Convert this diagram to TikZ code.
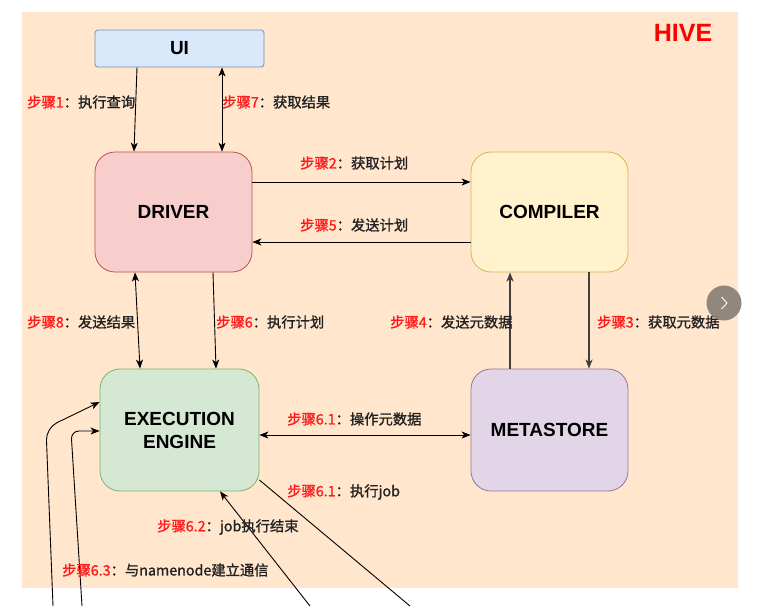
\documentclass[tikz,border=0pt]{standalone}
\usepackage{fontspec}
\setmainfont{Liberation Sans}
\newfontfamily\cjk[FakeBold=1.2]{Noto Sans CJK SC}
\usetikzlibrary{arrows.meta,calc}
\definecolor{peach}{HTML}{FFE6CC}
\definecolor{uifill}{HTML}{DAE8FC}\definecolor{uidraw}{HTML}{6C8EBF}
\definecolor{drfill}{HTML}{F8CECC}\definecolor{drdraw}{HTML}{B85450}
\definecolor{cofill}{HTML}{FFF2CC}\definecolor{codraw}{HTML}{D6B656}
\definecolor{eefill}{HTML}{D5E8D4}\definecolor{eedraw}{HTML}{82B366}
\definecolor{msfill}{HTML}{E1D5E7}\definecolor{msdraw}{HTML}{9673A6}
\definecolor{labtxt}{HTML}{222222}
\definecolor{stepred}{HTML}{FF1A1A}
\definecolor{btngray}{HTML}{8C8278}
\begin{document}
\begin{tikzpicture}[x=1pt,y=-1pt,
  box/.style={draw, line width=0.8pt, rounded corners=20pt, minimum width=157pt, minimum height=120pt,
    font=\fontsize{19}{23}\selectfont\bfseries, align=center, inner sep=0pt},
  conn/.style={draw=black, line width=0.9pt, -{Stealth[length=9pt,width=7pt,inset=2.5pt]}},
  biconn/.style={draw=black, line width=0.9pt, {Stealth[length=9pt,width=7pt,inset=2.5pt]}-{Stealth[length=9pt,width=7pt,inset=2.5pt]}},
  thickconn/.style={draw=black!75, line width=1.8pt, -{Stealth[length=9pt,width=7pt,inset=2.5pt]}},
  steplabel/.style={anchor=west, inner sep=0pt, text=labtxt, font=\cjk\fontsize{14.3}{16}\selectfont}
]
\useasboundingbox (0,0) rectangle (762,606);
\fill[white] (0,0) rectangle (762,606);
\fill[peach] (22,12) rectangle (738,588);

\node[text=red, font=\fontsize{25}{28}\selectfont\bfseries, inner sep=0pt] (hive) at (683,33) {HIVE};

\node[box, fill=uifill, draw=uidraw, rounded corners=3pt, minimum width=169pt, minimum height=37pt] (ui) at (179.5,48.5) {UI};
\node[box, fill=drfill, draw=drdraw] (driver) at (173.5,212) {DRIVER};
\node[box, fill=cofill, draw=codraw] (compiler) at (549.5,212) {COMPILER};
\node[box, fill=eefill, draw=eedraw, minimum width=159pt, minimum height=122pt] (ee) at (179.5,430) {EXECUTION\\ENGINE};
\node[box, fill=msfill, draw=msdraw, minimum height=122pt] (ms) at (549.5,430) {METASTORE};

% connectors
\draw[conn] ([xshift=-42.5pt]ui.south) -- ([xshift=-39.5pt]driver.north);
\draw[biconn] ([xshift=42.5pt]ui.south) -- ([xshift=48.5pt]driver.north);
\draw[conn] ([yshift=30pt]driver.east) -- ([yshift=30pt]compiler.west);
\draw[conn] ([yshift=-30pt]compiler.west) -- ([yshift=-30pt]driver.east);
\draw[biconn] ([xshift=-38.5pt]driver.south) -- ([xshift=-39.5pt]ee.north);
\draw[conn] ([xshift=39.5pt]driver.south) -- ([xshift=36.5pt]ee.north);
\draw[thickconn] ([xshift=-39.5pt]ms.north) -- ([xshift=-39.5pt]compiler.south);
\draw[thickconn] ([xshift=39.5pt]compiler.south) -- ([xshift=39.5pt]ms.north);
\draw[biconn] ([yshift=-5pt]ee.east) -- ([yshift=-5pt]ms.west);

\coordinate (jobend) at (410,606);
\coordinate (doneend) at (310,606);
\coordinate (nnA) at (53,606);
\coordinate (nnB) at (82,606);
\draw[draw=black, line width=0.9pt] ([yshift=-50pt]ee.east) -- (jobend);
\draw[conn] (doneend) -- ([xshift=40.5pt]ee.south);
\draw[conn, rounded corners=12pt] (nnA) -- (46,428) -- ([yshift=28pt]ee.west);
\draw[conn, rounded corners=8pt] (nnB) -- (71,431) -- ([yshift=-1pt]ee.west);

% labels
\node[steplabel] (l1) at (27,102) {\textcolor{stepred}{步骤1}：执行查询};
\node[steplabel] (l7) at (222,102) {\textcolor{stepred}{步骤7}：获取结果};
\node[steplabel] (l2) at (300,163) {\textcolor{stepred}{步骤2}：获取计划};
\node[steplabel] (l5) at (300,225) {\textcolor{stepred}{步骤5}：发送计划};
\node[steplabel] (l8) at (27,322) {\textcolor{stepred}{步骤8}：发送结果};
\node[steplabel] (l6) at (216,322) {\textcolor{stepred}{步骤6}：执行计划};
\node[steplabel] (l4) at (390,322) {\textcolor{stepred}{步骤4}：发送元数据};
\node[steplabel] (l3) at (597,322) {\textcolor{stepred}{步骤3}：获取元数据};
\node[steplabel] (l61a) at (287,419) {\textcolor{stepred}{步骤6.1}：操作元数据};
\node[steplabel] (l61b) at (287,492) {\textcolor{stepred}{步骤6.1}：执行job};
\node[steplabel] (l62) at (157,527) {\textcolor{stepred}{步骤6.2}：job执行结束};
\node[steplabel] (l63) at (62,570) {\textcolor{stepred}{步骤6.3}：与namenode建立通信};

% carousel button
\node[circle, fill=btngray, fill opacity=0.95, minimum size=35pt, inner sep=0pt] (btn) at (724,303) {};
\draw[white, line width=0.9pt] ([xshift=-2.5pt,yshift=6pt]btn.center) -- ([xshift=3pt]btn.center) -- ([xshift=-2.5pt,yshift=-6pt]btn.center);
\end{tikzpicture}
\end{document}
